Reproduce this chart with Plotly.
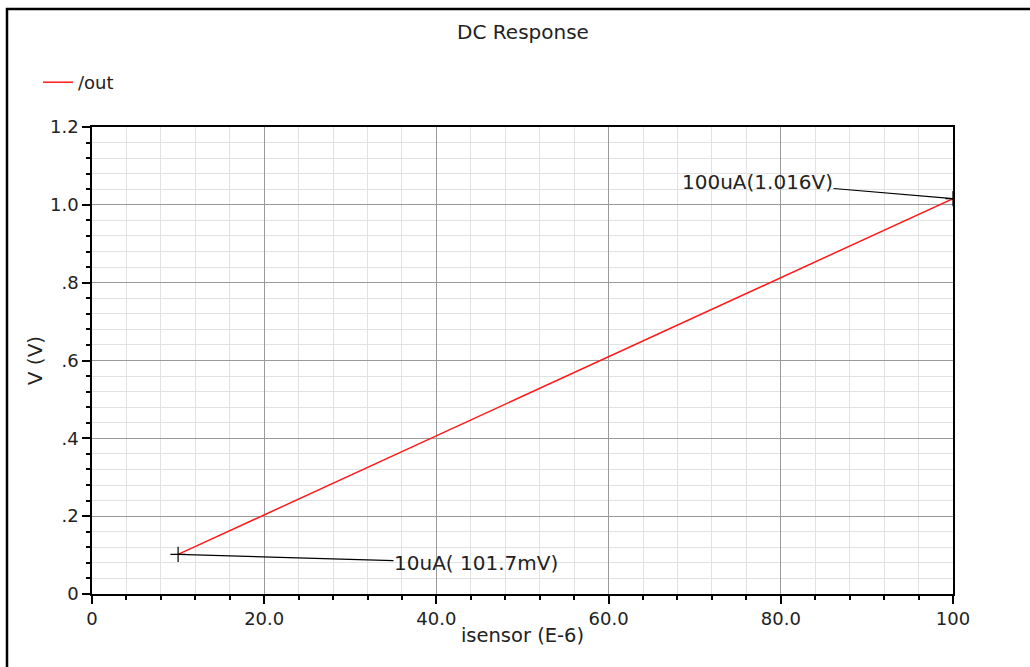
import plotly.graph_objects as go

# Data
isensor = [10, 20, 30, 40, 50, 60, 70, 80, 90, 100]          # E-6 A
vout = [0.1017, 0.2034, 0.3050, 0.4065, 0.5080, 0.6098, 0.7110, 0.8127, 0.9140, 1.016]
marker_x = [10, 100]
marker_y = [0.1017, 1.016]
marker_labels = ["10uA( 101.7mV)", "100uA(1.016V)"]
label_x = [44.6, 77.3]
label_y = [0.0797, 1.0586]

x_tickvals = [0, 20, 40, 60, 80, 100]
x_ticktext = ["0", "20.0", "40.0", "60.0", "80.0", "100"]
y_tickvals = [0, 0.2, 0.4, 0.6, 0.8, 1.0, 1.2]
y_ticktext = ["0", ".2", ".4", ".6", ".8", "1.0", "1.2"]

W, H = 1030, 667
ml, mr, mt, mb = 92, 77, 127, 73
pw, ph = W - ml - mr, H - mt - mb

def px_to_paper_x(px):
    return (px - ml) / pw

def px_to_paper_y(py):
    return (H - mb - py) / ph

font = "DejaVu Sans"
tc = "#222"

fig = go.Figure()
fig.add_trace(go.Scatter(x=isensor, y=vout, mode="lines", name="/out",
                         line=dict(color="#ff1a1a", width=1.5)))
fig.add_trace(go.Scatter(x=marker_x, y=marker_y, mode="markers", showlegend=False,
                         marker=dict(symbol="cross-thin", size=11,
                                     line=dict(color="black", width=1.2), color="black")))

for mx, my, lab, lx, ly in zip(marker_x, marker_y, marker_labels, label_x, label_y):
    fig.add_annotation(x=mx, y=my, ax=lx, ay=ly, axref="x", ayref="y",
                       text=lab, showarrow=True, arrowhead=0, arrowwidth=1.2,
                       arrowcolor="black", font=dict(family=font, size=20, color=tc),
                       standoff=0, borderpad=0)

axis_common = dict(showline=True, linecolor="black", linewidth=1.5, mirror=True,
                   ticks="outside", ticklen=8, tickcolor="black", tickwidth=1.5,
                   showgrid=True, gridcolor="#9a9a9a", gridwidth=1, zeroline=False,
                   tickfont=dict(family=font, size=18, color=tc))

fig.update_xaxes(range=[0, 100], tickvals=x_tickvals, ticktext=x_ticktext,
                 minor=dict(dtick=4, ticklen=4, tickcolor="black", tickwidth=1.5,
                            ticks="outside", showgrid=True, gridcolor="#e2e2e2", gridwidth=1),
                 title=dict(text="isensor (E-6)", font=dict(family=font, size=19.5, color=tc),
                            standoff=0),
                 **axis_common)
fig.update_yaxes(range=[0, 1.2], tickvals=y_tickvals, ticktext=y_ticktext,
                 minor=dict(dtick=0.04, ticklen=4, tickcolor="black", tickwidth=1.5,
                            ticks="outside", showgrid=True, gridcolor="#e2e2e2", gridwidth=1),
                 title=dict(text="V (V)", font=dict(family=font, size=20, color=tc),
                            standoff=2),
                 **axis_common)

fig.add_shape(type="rect", xref="paper", yref="paper",
              x0=px_to_paper_x(7), x1=px_to_paper_x(1045),
              y0=px_to_paper_y(690), y1=px_to_paper_y(9),
              line=dict(color="black", width=2.5), layer="above")

fig.update_layout(
    width=W, height=H,
    margin=dict(l=ml, r=mr, t=mt, b=mb),
    paper_bgcolor="white", plot_bgcolor="white",
    title=dict(text="DC Response", x=px_to_paper_x(523), xref="paper", xanchor="center",
               y=1 - 32 / H, yanchor="middle",
               font=dict(family=font, size=20, color=tc)),
    legend=dict(x=px_to_paper_x(38), y=px_to_paper_y(64), xanchor="left", yanchor="top",
                xref="paper", yref="paper", itemwidth=30,
                font=dict(family=font, size=18, color=tc), bgcolor="rgba(0,0,0,0)"),
    showlegend=True,
)

fig.write_html("out.html")
